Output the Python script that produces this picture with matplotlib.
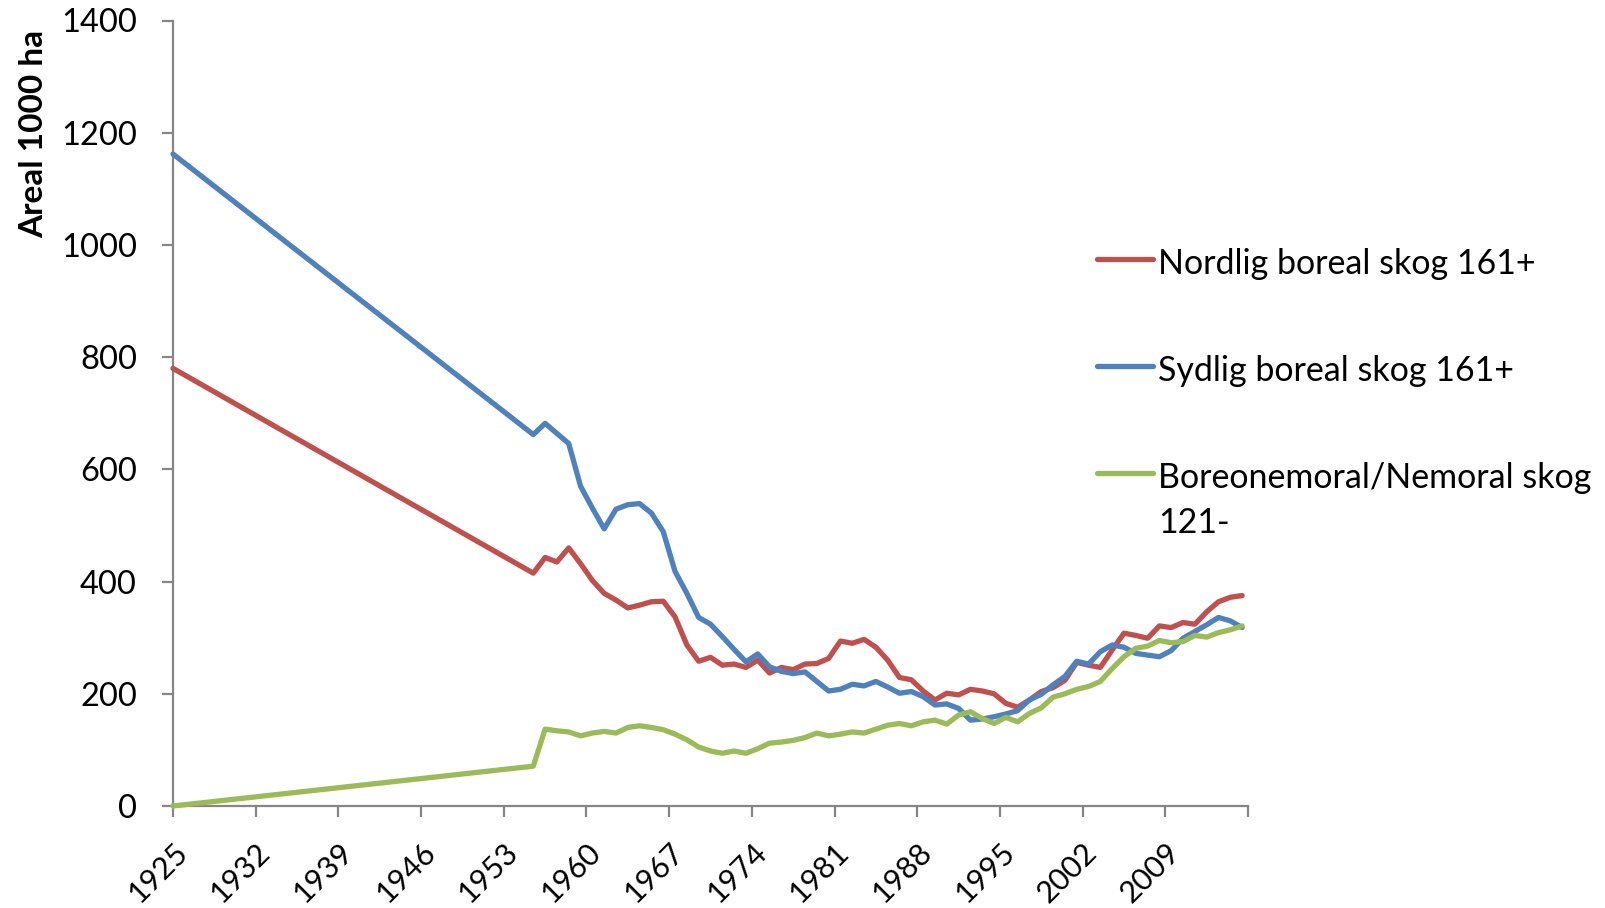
import numpy as np
import matplotlib
matplotlib.use("Agg")
import matplotlib.pyplot as plt
from matplotlib.lines import Line2D

# ---------------- data ----------------
years = [1925.0] + list(np.arange(1955.5, 2016.0, 1.0))

nordlig = [780,
           415, 443, 435, 460, 432, 402, 379, 367, 353, 358,
           364, 365, 337, 287, 258, 265, 251, 253, 247, 260,
           237, 247, 243, 253, 254, 263, 294, 290, 297, 283,
           260, 229, 225, 205, 189, 201, 198, 208, 205, 200,
           183, 176, 189, 204, 211, 224, 256, 251, 247, 278,
           308, 304, 299, 321, 318, 327, 324, 346, 364, 372,
           375]

sydlig = [1162,
          662, 682, 664, 646, 570, 531, 494, 529, 537, 539,
          522, 489, 418, 379, 336, 324, 302, 279, 257, 271,
          248, 240, 236, 239, 222, 205, 208, 217, 214, 222,
          212, 201, 204, 195, 180, 182, 174, 153, 155, 159,
          164, 170, 189, 199, 216, 231, 258, 253, 275, 287,
          283, 272, 269, 266, 277, 299, 311, 323, 336, 330,
          318]

boreonemoral = [0,
                71, 137, 134, 132, 125, 130, 133, 130, 140, 143,
                140, 136, 128, 118, 105, 98, 94, 98, 94, 102,
                112, 114, 117, 122, 130, 125, 128, 132, 130, 137,
                144, 147, 143, 150, 153, 146, 162, 168, 156, 147,
                158, 150, 165, 175, 194, 200, 208, 213, 222, 245,
                266, 281, 285, 295, 291, 293, 304, 301, 309, 314,
                321]

series_names = ["Nordlig boreal skog 161+",
                "Sydlig boreal skog 161+",
                "Boreonemoral/Nemoral skog\n121-"]
series_colors = ["#C0504D", "#4F81BD", "#9BBB59"]

xtick_years = list(range(1925, 2017, 7))
xtick_labels = [str(y) for y in xtick_years[:-1]] + [""]
ytick_values = list(range(0, 1401, 200))
y_label = "Areal 1000 ha"

# ---------------- figure ----------------
FONT = "Lato"
plt.rcParams["font.family"] = [FONT, "DejaVu Sans"]

fig = plt.figure(figsize=(16.06, 9.08), dpi=100)
ax = fig.add_axes([173 / 1606, 1 - 806 / 908, (1248 - 173) / 1606, (806 - 20.5) / 908])

for vals, col in zip([nordlig, sydlig, boreonemoral], series_colors):
    ax.plot(years, vals, color=col, lw=3.8, solid_capstyle="round",
            solid_joinstyle="round", clip_on=False, zorder=3)

ax.set_xlim(1925, 2016)
ax.set_ylim(0, 1400)

grey = "#868686"
for s in ["top", "right"]:
    ax.spines[s].set_visible(False)
for s in ["left", "bottom"]:
    ax.spines[s].set_color(grey)
    ax.spines[s].set_linewidth(1.6)
    ax.spines[s].set_zorder(2)

ax.set_yticks(ytick_values)
ax.set_yticklabels([str(v) for v in ytick_values], fontsize=23.5)
ax.set_xticks(xtick_years)
ax.set_xticklabels(xtick_labels, fontsize=22, rotation=45, ha="right",
                   va="top", rotation_mode="anchor")
ax.tick_params(axis="both", direction="out", length=8, width=1.6, color=grey)
ax.tick_params(axis="y", pad=18)
ax.tick_params(axis="x", pad=15)

fig.text(33.5 / 1606, 1 - 134 / 908, y_label, rotation=90, fontsize=24,
         fontweight="bold", ha="center", va="center")

# ---------------- legend (manual, Excel-like) ----------------
line_x0, line_x1 = 1097 / 1606, 1153 / 1606
text_x = 1158 / 1606
handle_y_px = [259, 366, 473]
baseline_px = [274, 381, 488]
line_step_px = 45
for name, col, hy, by in zip(series_names, series_colors, handle_y_px, baseline_px):
    fig.add_artist(Line2D([line_x0, line_x1], [1 - hy / 908, 1 - hy / 908],
                          transform=fig.transFigure, color=col, lw=3.8,
                          solid_capstyle="round"))
    for i, part in enumerate(name.split("\n")):
        fig.text(text_x, 1 - (by + i * line_step_px) / 908, part,
                 fontsize=24.5, ha="left", va="baseline")

fig.savefig("out.png", dpi=100)
